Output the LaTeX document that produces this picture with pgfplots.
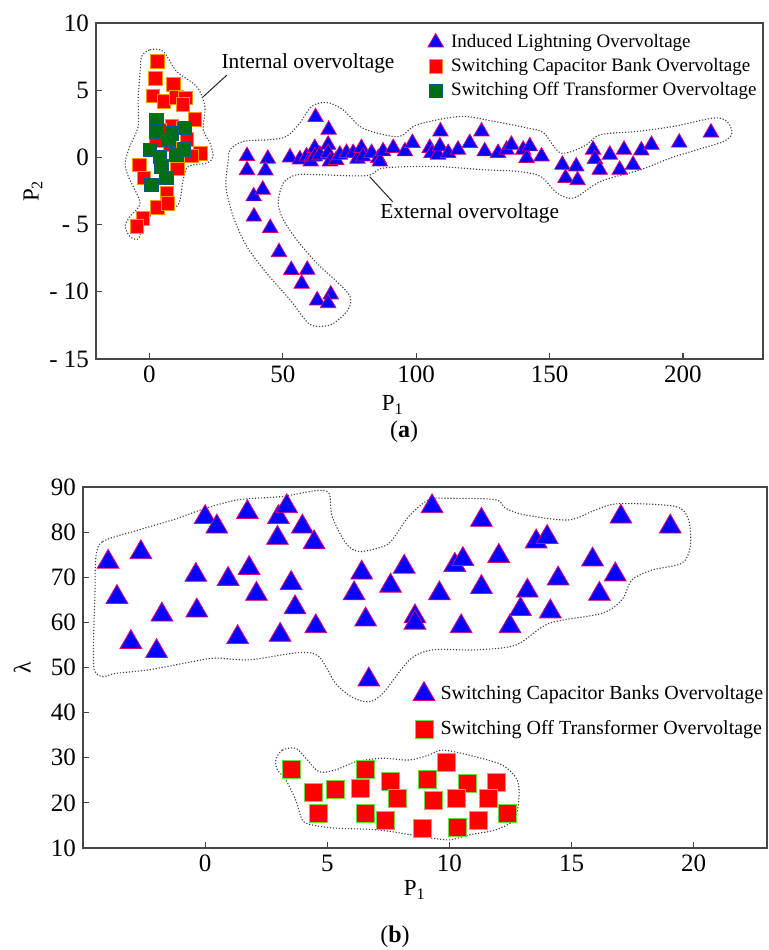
\documentclass[border=0pt]{standalone}
\usepackage{pgfplots}
\pgfplotsset{compat=1.18}
\usepackage{fontspec}
\setmainfont{Liberation Serif}
\definecolor{triblue}{RGB}{0,0,255}
\definecolor{triedge}{RGB}{225,0,110}
\definecolor{sqred}{RGB}{255,0,0}
\definecolor{sqedgeA}{RGB}{255,150,0}
\definecolor{sqgreen}{RGB}{0,110,20}
\definecolor{sqedgeG}{RGB}{0,90,140}
\definecolor{sqedgeB}{RGB}{110,220,60}
\definecolor{axgray}{RGB}{70,70,70}

\pgfplotsset{
  myaxis/.style={
    scale only axis,
    axis line style={axgray, line width=0.75pt},
    tick align=inside, tick pos=left, major tick length=3pt,
    every tick/.style={axgray, line width=0.6pt},
    tick label style={font=\fontsize{12.5}{13}\selectfont},
    clip=false,
    legend cell align=left,
    legend image code/.code={\draw[##1] plot coordinates {(0pt,0pt)};},
  },
  contour/.style={no marks, smooth cycle, black!75, line width=0.55pt, dash pattern=on 0.6pt off 0.9pt},
}

\begin{document}
\begin{tikzpicture}
\useasboundingbox (0,0) rectangle (384pt,475pt);

% ---------------- panel (a) ----------------
\begin{axis}[myaxis,
  at={(48pt,295.5pt)}, anchor=south west, width=333.5pt, height=168pt,
  xmin=-20, xmax=230, ymin=-15, ymax=10,
  xtick={0,50,100,150,200}, xticklabels={0,50,100,150,200},
  ytick={-15,-10,-5,0,5,10}, yticklabels={- 15,- 10,- 5,0,5,10},
  xlabel={P\textsubscript{1}}, ylabel={P\textsubscript{2}},
  label style={font=\fontsize{11.5}{12}\selectfont},
  xlabel style={at={(axis description cs:0.445,-0.137)}, anchor=center},
  ylabel style={at={(axis description cs:-0.0945,0.5)}, anchor=center},
  legend style={at={(axis description cs:0.497,0.975)}, anchor=north west,
    draw=none, fill=none, inner sep=0pt, row sep=1.5pt,
    font=\fontsize{9.5}{10}\selectfont,
    nodes={inner sep=0.8pt, text height=7pt, text depth=2pt},
    /tikz/every even column/.append style={column sep=0pt},
    /tikz/every odd column/.append style={column sep=3pt}},
]
\addplot[only marks, mark=triangle*, mark size=4.5pt,
  mark options={fill=triblue, draw=triedge, line width=0.35pt}] coordinates {
(36.6,0.1) (44.4,-0.1) (36.6,-0.95) (43.5,-0.97) (39.1,-2.9) (42.5,-2.4)
(39.2,-4.4) (45.3,-5.25) (48.6,-7.05) (53.2,-8.38) (59.2,-8.36) (57.1,-9.4)
(62.9,-10.64) (68.0,-10.2) (67.0,-10.85) (62.3,3.0) (67.2,2.06)
(52.7,0.0) (56.4,-0.15) (58.9,0.07) (60.8,0.07) (60.5,-0.3) (62.0,0.7)
(62.0,0.07) (63.9,0.2) (67.0,0.94) (67.0,0.33) (67.7,-0.3) (70.0,-0.2)
(71.4,0.2) (73.9,0.33) (76.4,0.33) (78.0,-0.1) (79.5,0.7) (80.1,0.07)
(83.3,0.33) (85.8,-0.05) (86.4,-0.3) (87.6,0.45) (91.4,0.7) (95.8,0.45)
(98.6,1.07) (105.1,0.7) (105.8,0.33) (108.2,0.2) (108.9,0.82) (109.1,1.93)
(112.0,0.33) (115.7,0.57) (120.1,1.07) (124.5,1.93) (125.7,0.45) (130.7,0.33)
(133.9,0.57) (135.7,0.94) (140.1,0.57) (141.4,-0.05) (142.6,0.82) (147.0,0.07)
(154.8,-0.55) (156.0,-1.53) (160.0,-0.67) (160.5,-1.7) (166.3,0.57) (167.0,-0.12)
(168.8,-0.92) (172.6,0.2) (176.3,-0.92) (177.9,0.57) (181.3,-0.55) (184.4,0.52)
(188.2,0.94) (198.6,1.1) (210.5,1.85)
};
\addlegendentry{Induced Lightning Overvoltage}
\addplot[only marks, mark=square*, mark size=3.4pt,
  mark options={fill=sqred, draw=sqedgeA, line width=0.35pt}] coordinates {
(3.1,7.14) (2.3,5.9) (9.0,5.45) (1.3,4.59) (5.5,4.17) (10.2,4.49) (13.5,4.42)
(12.5,3.95) (17.1,2.84) (8.4,2.36) (4.0,2.06) (12.5,2.2) (2.5,1.25) (7.7,0.94)
(14.0,1.35) (12.7,0.57) (19.0,0.28) (15.8,0.12) (-3.8,-0.54) (-2.0,-1.53)
(10.4,-0.84) (6.5,-2.65) (3.1,-3.72) (7.0,-3.42) (-2.5,-4.55) (-4.7,-5.13)
};
\addlegendentry{Switching Capacitor Bank Overvoltage}
\addplot[only marks, mark=square*, mark size=3.4pt,
  mark options={fill=sqgreen, draw=sqedgeG, line width=0.35pt}] coordinates {
(2.7,2.75) (2.7,1.93) (8.5,1.81) (13.3,2.2) (0.2,0.55) (4.0,0.05) (4.5,-0.67)
(10.2,0.2) (13.0,0.6) (6.4,-1.53) (0.7,-2.03) (7.1,1.3)
};
\addlegendentry{Switching Off Transformer Overvoltage}

% contours
\addplot[contour, forget plot] coordinates {
(-2.9,7.51) (0.2,8.01) (5.2,7.89) (10.2,6.4) (17.7,5.28) (20.8,3.79) (20.2,2.06)
(22.7,1.07) (23.9,0.07) (21.5,-0.42) (14.6,-0.67) (12.7,-1.66) (11.5,-3.15)
(9.6,-3.76) (2.7,-3.89) (-2.3,-5.13) (-4.2,-6.07) (-7.3,-5.88) (-9.1,-5.13)
(-7.3,-4.39) (-3.5,-3.39) (-7.9,-1.41) (-9.1,-0.42) (-7.3,0.82) (-4.2,2.31)
(-4.2,4.29) (-3.5,6.28)
};
\addplot[contour, forget plot] coordinates {
(30.2,0.57) (35.2,1.19) (45.2,1.32) (51.4,1.56) (56.4,2.56) (60.8,3.79) (66.4,4.09)
(72.6,3.55) (78.9,2.31) (85.2,1.82) (93.9,1.56) (100.4,2.43) (116.6,3.05)
(129.1,2.68) (141.6,2.19) (147.8,1.82) (154.1,0.33) (162.8,0.82) (169.1,1.69)
(182.8,1.93) (196.6,2.31) (211.5,2.93) (216.5,2.68) (218.4,1.82) (215.3,1.19)
(205.3,0.57) (195.3,-0.05) (184.1,-0.92) (169.1,-1.79) (159.1,-3.02) (152.8,-2.65)
(146.6,-1.41) (137.8,-1.04) (125.4,-0.92) (106.6,-0.67) (87.9,-0.79) (81.4,-1.36)
(63.9,-1.29) (55.2,-1.29) (50.2,-1.9) (48.3,-3.39) (50.2,-4.64) (55.2,-6.12)
(62.7,-7.86) (70.2,-9.23) (75.2,-10.34) (74.5,-11.33) (68.9,-12.37) (63.9,-12.57)
(59.5,-12.32) (52.7,-10.59) (43.9,-8.6) (36.5,-6.62) (31.4,-4.39) (28.7,-2.16)
(29.6,-0.17)
};
% leader lines
\addplot[forget plot, no marks, black!85, line width=0.5pt] coordinates {(20.1,4.5) (29.1,6.13)};
\addplot[forget plot, no marks, black!85, line width=0.5pt] coordinates {(82.6,-1.44) (91.2,-3.3)};
\node[anchor=west, inner sep=0pt, font=\fontsize{10.7}{11}\selectfont] at (axis cs:26.9,7.0) {Internal overvoltage};
\node[anchor=west, inner sep=0pt, font=\fontsize{10.7}{11}\selectfont] at (axis cs:86.4,-4.2) {External overvoltage};
\end{axis}

% ---------------- panel (b) ----------------
\begin{axis}[myaxis,
  at={(41.5pt,51pt)}, anchor=south west, width=342pt, height=180.5pt,
  xmin=-5, xmax=23, ymin=10, ymax=90,
  xtick={0,5,10,15,20}, xticklabels={0,5,10,15,20},
  ytick={10,20,30,40,50,60,70,80,90}, yticklabels={10,20,30,40,50,60,70,80,90},
  xlabel={P\textsubscript{1}}, ylabel={λ},
  xlabel style={at={(axis description cs:0.485,-0.116)}, anchor=center, font=\fontsize{11.5}{12}\selectfont},
  ylabel style={at={(axis description cs:-0.089,0.5)}, anchor=center, font=\fontsize{12}{12}\selectfont},
  legend style={at={(axis description cs:0.482,0.462)}, anchor=north west,
    draw=none, fill=none, inner sep=0pt, row sep=7pt,
    font=\fontsize{10}{10}\selectfont,
    nodes={inner sep=0.8pt, text height=7pt, text depth=2pt},
    /tikz/every even column/.append style={column sep=0pt},
    /tikz/every odd column/.append style={column sep=2pt}},
]
\addplot[only marks, mark=triangle*, mark size=6.3pt,
  mark options={fill=triblue, draw=triedge, line width=0.4pt}] coordinates {
(-3.97,73.4) (-3.61,65.6) (-2.63,75.5) (-3.04,55.6) (-1.77,61.7) (-1.99,53.6)
(-0.38,70.5) (-0.34,62.6) (0.0,83.3) (0.48,81.2) (0.94,69.6) (1.33,56.7)
(1.73,84.4) (1.80,72.0) (2.10,66.3) (3.0,83.3) (3.34,85.7) (2.96,78.7)
(3.07,57.2) (3.52,68.7) (3.68,63.3) (3.98,81.2) (4.46,77.7) (4.53,59.1)
(9.29,85.7) (11.31,82.7) (13.55,77.9) (14.0,78.9) (6.41,71.0) (8.15,72.3)
(10.22,72.7) (10.55,74.0) (12.02,74.7) (6.10,66.4) (7.59,68.1) (9.59,66.4)
(11.31,67.8) (13.19,67.0) (6.57,60.6) (8.59,61.3) (8.59,59.9) (10.48,59.1)
(12.48,59.1) (12.91,62.9) (6.70,47.3) (17.02,83.4) (19.04,81.2) (15.86,73.9)
(16.79,70.6) (14.45,69.7) (16.14,66.3) (14.13,62.4)
};
\addlegendentry{Switching Capacitor Banks Overvoltage}
\addplot[only marks, mark=square*, mark size=4.5pt,
  mark options={fill=sqred, draw=sqedgeB, line width=0.4pt}] coordinates {
(3.54,27.4) (4.43,22.3) (4.62,17.7) (5.34,23.0) (6.54,27.4) (6.36,23.2) (6.54,17.7)
(7.59,24.7) (7.89,20.9) (7.39,16.1) (9.88,28.9) (9.10,25.3) (9.36,20.5) (8.89,14.3)
(10.72,24.3) (10.29,20.9) (10.34,14.5) (11.93,24.6) (11.61,20.9) (11.20,16.2) (12.37,17.7)
};
\addlegendentry{Switching Off Transformer Overvoltage}

\addplot[contour, forget plot] coordinates {
(-4.47,74.6) (-4.2,77.9) (-2.97,80.1) (-1.34,82.7) (0.03,85.3) (1.39,87.2) (3.16,87.9)
(4.53,89.2) (5.07,88.6) (5.2,83.5) (5.75,77.6) (6.3,75.7) (7.28,76.8) (7.66,78.3)
(8.34,83.5) (9.16,87.2) (9.98,87.5) (11.88,87.2) (12.29,85.3) (13.11,83.8) (14.88,82.7)
(15.97,84.9) (16.93,86.3) (19.24,85.7) (19.79,82.7) (19.86,76.8) (19.51,73.1)
(18.29,71.6) (17.47,69.4) (17.06,65.0) (16.24,62.0) (14.09,59.8) (12.73,55.0)
(11.09,53.9) (9.32,53.9) (8.37,51.7) (7.28,44.3) (6.7,42.4) (6.02,43.4) (5.34,46.5)
(4.66,52.4) (3.84,53.3) (1.8,51.7) (0.44,52.1) (-0.52,51.3) (-2.29,49.5) (-3.65,48.7)
(-4.2,48.0) (-4.54,49.5) (-4.57,55.4) (-4.51,66.5)
};
\addplot[contour, forget plot] coordinates {
(2.89,29.5) (3.16,31.7) (3.71,32.1) (4.12,29.9) (4.66,26.9) (5.34,27.3) (6.16,29.1)
(7.25,29.9) (8.34,29.5) (9.16,30.6) (9.7,31.7) (10.79,30.6) (12.15,28.4) (12.77,25.1)
(12.84,20.6) (12.63,16.2) (11.88,14.0) (10.79,12.9) (10.0,11.8) (8.91,12.5) (7.11,14.0)
(5.34,14.4) (4.39,15.1) (3.98,16.2) (3.71,20.6) (3.3,25.1) (2.96,27.3)
};
\end{axis}

\node[font=\fontsize{12}{14}\selectfont] at (202pt,259pt) {(\textbf{a})};
\node[font=\fontsize{12}{14}\selectfont] at (197.5pt,6.5pt) {(\textbf{b})};
\end{tikzpicture}
\end{document}
